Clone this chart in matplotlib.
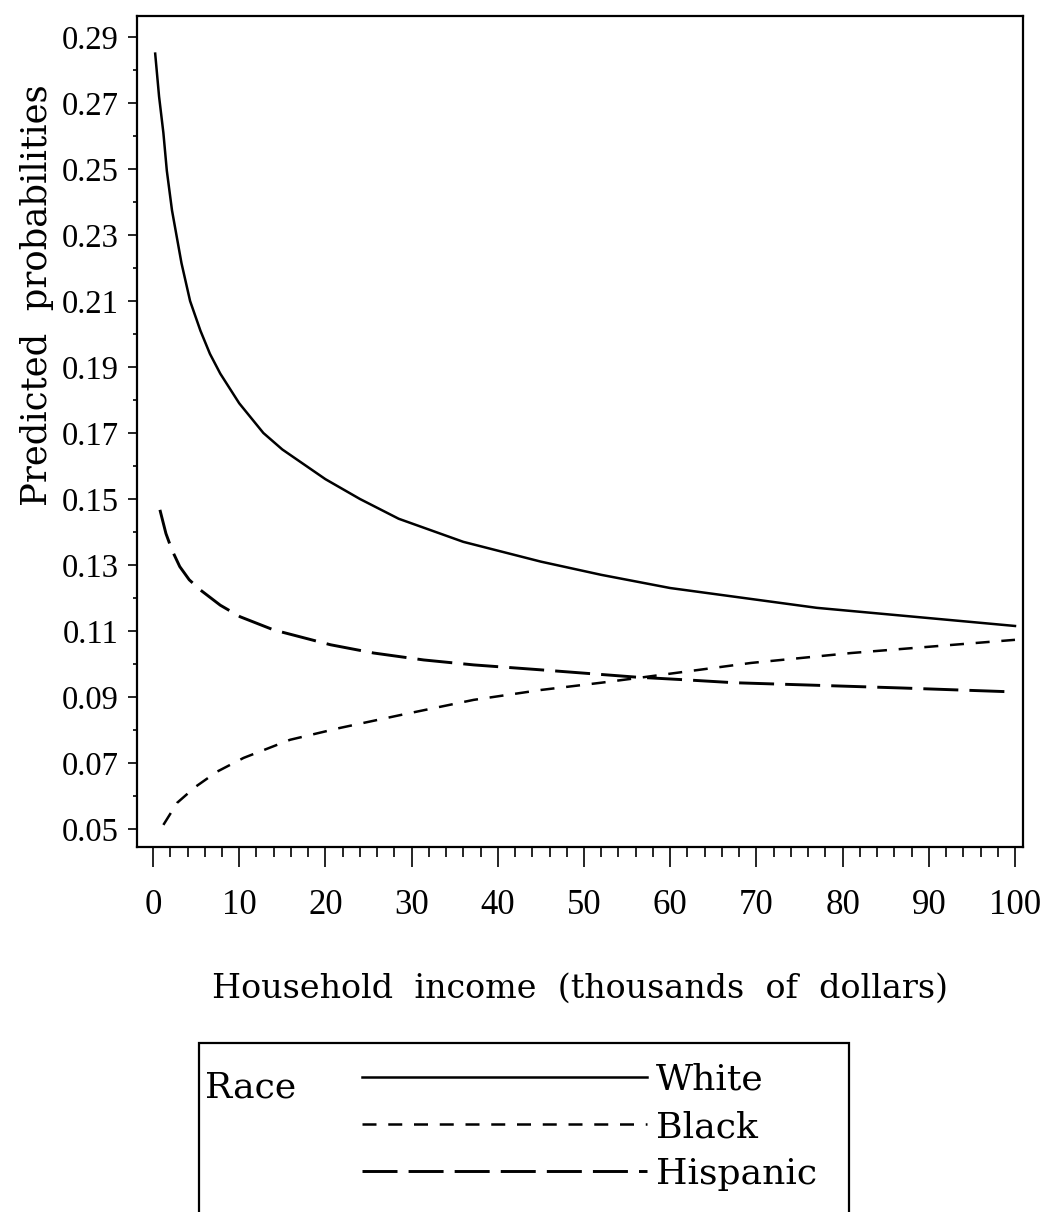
import matplotlib
matplotlib.use("Agg")
import matplotlib.pyplot as plt
from matplotlib.patches import Rectangle
from matplotlib.ticker import MultipleLocator, FixedLocator

# ---- data ----
white_x = [0.25, 0.7, 1.2, 1.6, 2.2, 3.3, 4.3, 5.5, 6.6, 7.8, 10.0, 12.8, 15.0, 20.0, 24.0, 28.5, 36.0, 45.0, 52.0, 60.0, 77.0, 100.0]
white_y = [0.285, 0.272, 0.261, 0.2495, 0.2375, 0.2215, 0.210, 0.201, 0.194, 0.188, 0.179, 0.170, 0.165, 0.156, 0.150, 0.144, 0.137, 0.131, 0.127, 0.123, 0.117, 0.1115]

black_x = [1.2, 2.8, 4.9, 7.4, 10.5, 15.9, 21.7, 28.7, 37.2, 45.0, 52.0, 57.0, 69.4, 81.0, 100.0]
black_y = [0.0512, 0.0579, 0.0627, 0.0673, 0.0715, 0.0770, 0.0806, 0.0845, 0.0891, 0.0921, 0.0943, 0.0960, 0.1003, 0.1033, 0.1073]

hisp_x = [0.8, 1.5, 2.2, 3.1, 4.2, 5.5, 7.8, 10.1, 14.0, 20.6, 25.6, 31.4, 37.2, 45.0, 52.0, 56.0, 61.6, 67.4, 76.0, 86.9, 100.0]
hisp_y = [0.1467, 0.1395, 0.1345, 0.1295, 0.1255, 0.1224, 0.1178, 0.1143, 0.1103, 0.1058, 0.1033, 0.1012, 0.0997, 0.0982, 0.0968, 0.0960, 0.0952, 0.0943, 0.0936, 0.0927, 0.0915]

series_labels = ["White", "Black", "Hispanic"]
legend_title = "Race"
x_label = "Household  income  (thousands  of  dollars)"
y_label = "Predicted  probabilities"
x_major = list(range(0, 101, 10))
y_major = [0.05, 0.07, 0.09, 0.11, 0.13, 0.15, 0.17, 0.19, 0.21, 0.23, 0.25, 0.27, 0.29]

W, H = 1047, 1212
fig = plt.figure(figsize=(W / 100, H / 100), dpi=100)
ax = fig.add_axes([137 / W, 1 - 847 / H, (1023 - 137) / W, (847 - 16) / H])

lab_font = "DejaVu Serif"
tick_font = "Liberation Serif"

l1, = ax.plot(white_x, white_y, color="black", lw=1.8, solid_joinstyle="round")
l2, = ax.plot(black_x, black_y, color="black", lw=1.8, dashes=(5.6, 4.7))
l3, = ax.plot(hisp_x, hisp_y, color="black", lw=2.1, dashes=(12.0, 3.8))

ax.set_xlim(-1.86, 100.93)
ax.set_ylim(0.0445, 0.2964)

ax.xaxis.set_major_locator(FixedLocator(x_major))
ax.xaxis.set_minor_locator(MultipleLocator(2))
ax.yaxis.set_major_locator(FixedLocator(y_major))
ax.yaxis.set_minor_locator(FixedLocator([v + 0.01 for v in y_major[:-1]]))
ax.set_yticklabels([f"{v:.2f}" for v in y_major])
ax.set_xticklabels([str(v) for v in x_major])

for s in ax.spines.values():
    s.set_linewidth(1.6)

ax.tick_params(axis="x", which="major", direction="out", length=14.4, width=1.2, pad=16)
ax.tick_params(axis="x", which="minor", direction="out", length=7.2, width=1.2)
ax.tick_params(axis="y", which="major", direction="out", length=6.5, width=1.2, pad=6.5)
ax.tick_params(axis="y", which="minor", direction="out", length=3.0, width=1.2)
for t in ax.get_xticklabels():
    t.set_fontfamily(tick_font)
    t.set_fontsize(25)
for t in ax.get_yticklabels():
    t.set_fontfamily(tick_font)
    t.set_fontsize(23.5)

ax.set_xlabel(x_label, fontfamily=lab_font, fontsize=24)
ax.xaxis.set_label_coords(0.5, -0.1817)
ax.xaxis.label.set_va("baseline")
ax.set_ylabel(y_label, fontfamily=lab_font, fontsize=25.5)
ax.yaxis.set_label_coords(-0.1016, 0.664)
ax.yaxis.label.set_va("baseline")

# legend box
fig.add_artist(Rectangle((199 / W, 1 - 1240 / H), (849 - 199) / W, (1240 - 1043) / H,
                         transform=fig.transFigure, fill=False, lw=1.6, edgecolor="black",
                         clip_on=False))
fig.text(205 / W, 1 - 1098 / H, legend_title, fontfamily=lab_font, fontsize=26, va="baseline")
leg = fig.legend([l1, l2, l3], series_labels, loc="upper left",
                 bbox_to_anchor=(362 / W, 1 - 1063 / H), frameon=False,
                 prop={"family": lab_font, "size": 26},
                 handlelength=7.9, handletextpad=0.25, labelspacing=0.36,
                 borderpad=0, borderaxespad=0)

fig.savefig("out.png", dpi=100)
